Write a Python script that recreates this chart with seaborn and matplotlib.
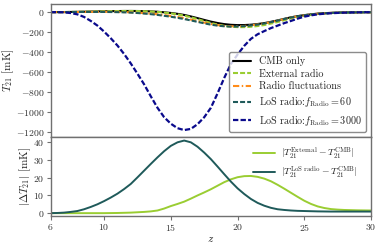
import numpy as np
import pandas as pd
import seaborn as sns
from matplotlib import pyplot as plt

# redshift grid (step 0.5)
z = [6, 6.5, 7, 7.5, 8, 8.5, 9, 9.5, 10, 10.5, 11, 11.5, 12, 12.5, 13, 13.5,
     14, 14.5, 15, 15.5, 16, 16.5, 17, 17.5, 18, 18.5, 19, 19.5, 20, 20.5,
     21, 21.5, 22, 22.5, 23, 23.5, 24, 24.5, 25, 25.5, 26, 26.5, 27, 27.5,
     28, 28.5, 29, 29.5, 30]

# T21 [mK]
cmb_only = [0, 0.5, 1, 2, 3, 4.5, 6, 7.5, 9, 10, 11, 11.8, 12, 11.5, 10, 7.5,
            4, -1.5, -8, -17, -28, -43, -60, -78, -95, -109, -120, -127, -130, -129.5,
            -126, -119, -110, -97, -83, -67, -52, -40, -30, -22, -15, -10.5, -7, -4.5,
            -3, -2, -1, -0.5, 0]
external_radio = [0, 0.5, 1, 2, 3, 4.5, 6, 7.5, 9, 9.9, 10.9, 11.6, 11.7, 11, 9.3, 6.5,
                  2.5, -4.1, -12, -22.2, -34.5, -51.2, -70, -89.7, -108.5, -124.5, -137.5, -146.1, -150.3, -150.4,
                  -147, -139.5, -129.5, -115, -99, -80.8, -63.5, -49.2, -37, -27.2, -18.8, -13.4, -9.3, -6.5,
                  -4.8, -3.7, -2.6, -2.0, -1.5]
radio_fluct = [0, 0.4, 0.8, 1.4, 2, 2.6, 3, 3.3, 3.5, 2.9, 2, 0.4, -1.5, -5.3, -10, -15,
               -21, -29, -38, -48.5, -60, -74.5, -90, -105, -119, -130, -138, -141.5, -142, -138.5,
               -132, -123, -113, -99.5, -85, -68.5, -53, -41, -31, -23, -16, -11.5, -8, -5.5,
               -4, -3, -2, -1.5, -1]
los_60 = [0, 0.4, 0.7, 1.3, 1.8, 2.3, 2.5, 2.5, 2.2, 1.2, 0, -1.8, -4.5, -8.7, -14, -20.3,
          -27.5, -36.5, -46, -57, -69, -83, -97.5, -112.2, -125.5, -135.3, -142, -144.8, -144, -140.3,
          -134, -124.8, -114.2, -100, -85.2, -68.8, -53.5, -41.3, -31.2, -23.1, -16, -11.5, -7.9, -5.4,
          -3.9, -2.9, -1.9, -1.4, -0.9]
los_3000 = [0, 0, -2, -9, -22, -48, -88, -135, -195, -262, -335, -420, -515, -618, -725, -845,
            -960, -1055, -1120, -1165, -1184, -1172, -1125, -1055, -960, -815, -660, -520, -425, -338,
            -268, -222, -190, -160, -135, -110, -88, -65, -45, -32, -22, -15.5, -11, -7.5,
            -5, -3.5, -2, -1, 0]

# |Delta T21| [mK]
diff_external = [0, 0, 0, 0, 0, 0, 0, 0, 0, 0.05, 0.1, 0.2, 0.3, 0.5, 0.7, 1.0,
                 1.5, 2.6, 4, 5.2, 6.5, 8.2, 10, 11.7, 13.5, 15.5, 17.5, 19.1, 20.3, 20.9,
                 21, 20.5, 19.5, 18, 16, 13.8, 11.5, 9.2, 7, 5.2, 3.8, 2.9, 2.3, 2.0,
                 1.8, 1.7, 1.6, 1.55, 1.5]
diff_los = [0, 0.1, 0.3, 0.7, 1.2, 2.2, 3.5, 5, 6.8, 8.8, 11, 13.6, 16.5, 20.2, 24, 27.8,
            31.5, 35, 38, 40, 41, 40, 37.5, 34.2, 30.5, 26.3, 22, 17.8, 14, 10.8,
            8, 5.8, 4.2, 3.0, 2.2, 1.8, 1.5, 1.3, 1.2, 1.1, 1.0, 0.95, 0.9, 0.9,
            0.9, 0.9, 0.9, 0.9, 0.9]

sns.set_style("ticks")
plt.rcParams['font.family'] = 'serif'
plt.rcParams['font.serif'] = ['cmr10', 'DejaVu Serif']
plt.rcParams['mathtext.fontset'] = 'cm'
plt.rcParams['axes.formatter.use_mathtext'] = True
plt.rcParams['axes.unicode_minus'] = True
plt.rcParams['lines.dashed_pattern'] = [2.4, 1.0]
plt.rcParams['lines.dashdot_pattern'] = [3.0, 1.2, 0.7, 1.2]

df = pd.DataFrame({"z": z, "cmb": cmb_only, "ext": external_radio, "fluct": radio_fluct,
                   "los60": los_60, "los3000": los_3000,
                   "d_ext": diff_external, "d_los": diff_los})

fig, (ax1, ax2) = plt.subplots(2, 1, figsize=(3.81, 2.49), dpi=100, sharex=True,
                               gridspec_kw={"height_ratios": [132.7, 79], "hspace": 0})
fig.subplots_adjust(left=0.133, right=0.974, top=0.984, bottom=0.134)

teal = "#1f5a5a"
lime = "#9acd32"
sns.lineplot(data=df, x="z", y="cmb", ax=ax1, color="black", lw=1.5, label="CMB only")
sns.lineplot(data=df, x="z", y="ext", ax=ax1, color=lime, lw=1.5, linestyle="--", label="External radio")
sns.lineplot(data=df, x="z", y="fluct", ax=ax1, color="#ff8c1a", lw=1.5, linestyle="-.", label="Radio fluctuations")
sns.lineplot(data=df, x="z", y="los60", ax=ax1, color=teal, lw=1.5, linestyle="--",
             label=r"LoS radio:$f_{\rm Radio}=60$")
sns.lineplot(data=df, x="z", y="los3000", ax=ax1, color="#0a0a8c", lw=1.6, linestyle="--",
             label=r"LoS radio:$f_{\rm Radio}=3000$")

sns.lineplot(data=df, x="z", y="d_ext", ax=ax2, color=lime, lw=1.4,
             label=r"$|T_{21}^{\rm External}-T_{21}^{\rm CMB}|$")
sns.lineplot(data=df, x="z", y="d_los", ax=ax2, color=teal, lw=1.4,
             label=r"$|T_{21}^{\rm LoS\ radio}-T_{21}^{\rm CMB}|$")

ax1.set_ylim(-1250, 82)
ax1.set_yticks([0, -200, -400, -600, -800, -1000, -1200])
ax2.set_ylim(-1.4, 43.2)
ax2.set_yticks([0, 10, 20, 30, 40])
ax2.set_xlim(6, 30)
ax2.set_xticks([6, 10, 15, 20, 25, 30])

ax1.set_ylabel(r"$T_{21}$ [mK]", fontsize=8)
ax2.set_ylabel(r"$|\Delta T_{21}|$ [mK]", fontsize=8)
ax1.yaxis.set_label_coords(-0.108, 0.5)
ax2.yaxis.set_label_coords(-0.055, 0.5)
ax2.set_xlabel(r"$z$", fontsize=8, labelpad=1)
ax1.set_xlabel("")

for ax in (ax1, ax2):
    for s in ax.spines.values():
        s.set_visible(True)
        s.set_color("#707070")
        s.set_linewidth(1.0)
    ax.tick_params(labelsize=7, length=3, color="#707070", labelcolor="#303030", pad=1.5)
ax1.tick_params(axis="x", bottom=False, labelbottom=False)

leg1 = ax1.legend(loc="lower right", fontsize=7.3, framealpha=0.8, edgecolor="#707070",
                  labelspacing=0.3, handlelength=1.8, borderaxespad=0.5)
leg2 = ax2.legend(loc="upper right", fontsize=7, frameon=False, handlelength=2.2,
                  handletextpad=0.7, labelspacing=0.45, bbox_to_anchor=(0.985, 1.0))

fig.savefig("out.png", dpi=100)
